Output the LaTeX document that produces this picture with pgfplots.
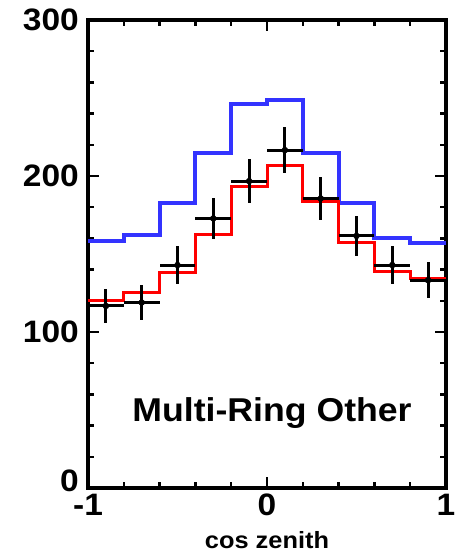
\documentclass[border=0pt]{standalone}
\usepackage{fontspec}
\setmainfont[FakeStretch=1.08]{Liberation Sans}
\usepackage{pgfplots}
\pgfplotsset{compat=1.18}
\definecolor{mcblue}{RGB}{51,51,255}
\definecolor{mcred}{RGB}{255,0,0}

\begin{document}
\begin{tikzpicture}
\begin{axis}[
    scale only axis,
    width=358pt, height=468pt,
    xmin=-1, xmax=1, ymin=0, ymax=300,
    xtick={-1,0,1}, xticklabels={-1,0,1},
    minor xtick={-0.8,-0.6,-0.4,-0.2,0.2,0.4,0.6,0.8},
    ytick={100,200,300},
    extra y ticks={0},
    extra y tick style={yticklabel style={yshift=7pt}},
    minor ytick={20,40,60,80,120,140,160,180,220,240,260,280},
    tick align=inside,
    major tick length=11pt, minor tick length=6pt,
    every tick/.style={black, line width=2.5pt},
    axis line style={line width=4pt},
    /pgf/number format/assume math mode=true,
    ticklabel style={font=\fontsize{31}{31}\selectfont\bfseries, inner sep=1pt},
    xticklabel style={yshift=-5pt},
    yticklabel style={xshift=-8pt},
    xlabel={cos zenith},
    xlabel style={font=\fontsize{23.5}{23.5}\selectfont\bfseries,
        at={(axis description cs:0.5,0)}, anchor=center, yshift=-52pt},
    clip=false,
]
% MC without oscillation (blue)
\addplot[const plot, mcblue, line width=4pt] coordinates {
    (-1.0,158.2) (-0.8,162.1) (-0.6,182.8) (-0.4,214.5) (-0.2,246.1)
    (0.0,248.7) (0.2,214.5) (0.4,182.8) (0.6,160.4) (0.8,156.8) (1.0,156.8)
};
% MC with oscillation (red)
\addplot[const plot, mcred, line width=3pt] coordinates {
    (-1.0,120.0) (-0.8,125.3) (-0.6,138.2) (-0.4,162.7) (-0.2,193.1)
    (0.0,207.0) (0.2,183.5) (0.4,157.2) (0.6,139.0) (0.8,134.3) (1.0,134.3)
};
% data
\addplot[only marks, mark=*, mark size=3pt, black,
    error bars/.cd, x dir=both, x explicit, y dir=both, y explicit,
    error mark=none, error bar style={line width=3pt, black}]
  coordinates {
    (-0.9,116.7) +- (0.1,11)
    (-0.7,118.9) +- (0.1,11)
    (-0.5,142.9) +- (0.1,12)
    (-0.3,172.8) +- (0.1,13)
    (-0.1,196.7) +- (0.1,14)
    (0.1,216.6) +- (0.1,14.5)
    (0.3,185.6) +- (0.1,14)
    (0.5,161.6) +- (0.1,13)
    (0.7,142.9) +- (0.1,12)
    (0.9,133.2) +- (0.1,11.5)
};
\node[font=\fontsize{33}{33}\selectfont\bfseries] at (axis cs:0.028,48) {Multi-Ring Other};
\end{axis}
\pgfresetboundingbox
\path ([shift={(-88pt,-65pt)}]current axis.south west)
    rectangle ([shift={(10pt,20pt)}]current axis.north east);
\end{tikzpicture}
\end{document}
